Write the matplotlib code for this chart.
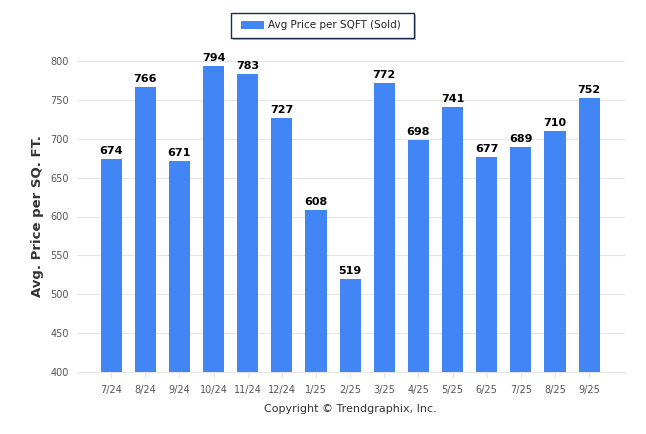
import matplotlib.pyplot as plt
import matplotlib.patches as patches

months = ["7/24", "8/24", "9/24", "10/24", "11/24", "12/24", "1/25", "2/25",
          "3/25", "4/25", "5/25", "6/25", "7/25", "8/25", "9/25"]
price_sqft = [674, 766, 671, 794, 783, 727, 608, 519, 772, 698, 741, 677, 689, 710, 752]
y_ticks = [400, 450, 500, 550, 600, 650, 700, 750, 800]

bar_color = "#4285F4"
W, H = 646, 434

fig = plt.figure(figsize=(W / 100, H / 100), dpi=100)
ax = fig.add_axes([77 / W, (H - 372) / H, (625 - 77) / W, (372 - 61) / H])

xs = list(range(len(months)))
ax.bar(xs, price_sqft, width=0.62, color=bar_color, zorder=3)
for x, v in zip(xs, price_sqft):
    ax.text(x, v + 4, str(v), ha="center", va="bottom", fontsize=8,
            fontweight="bold", color="#000")

ax.set_xlim(-1.0, 15.05)
ax.set_ylim(400, 800)
ax.set_yticks(y_ticks)
ax.set_xticks(xs)
ax.set_xticklabels(months)
ax.tick_params(axis="both", labelsize=7, colors="#555", length=0, pad=6)
ax.tick_params(axis="x", length=4, color="#e6e6e6", pad=5)
ax.grid(axis="y", color="#e6e6e6", linewidth=0.8, zorder=0)
for s in ["top", "right", "left"]:
    ax.spines[s].set_visible(False)
ax.spines["bottom"].set_color("#e6e6e6")

ax.set_ylabel("Avg. Price per SQ. FT.", fontsize=9.5, fontweight="bold",
              color="#333", labelpad=4)

fig.text(350 / W, 1 - 409 / H, "Copyright \u00a9 Trendgraphix, Inc.",
         ha="center", va="center", fontsize=8, color="#333")

# legend box with shadow
shadow = patches.Rectangle((233 / W, 1 - 40 / H), 183 / W, 25 / H,
                           transform=fig.transFigure, facecolor="#bbb",
                           edgecolor="none", zorder=1)
box = patches.Rectangle((231 / W, 1 - 38 / H), 183 / W, 25 / H,
                        transform=fig.transFigure, facecolor="#fff",
                        edgecolor="#1a2a4a", linewidth=1.0, zorder=2)
swatch = patches.Rectangle((241 / W, 1 - 29 / H), 23 / W, 8 / H,
                           transform=fig.transFigure, facecolor=bar_color,
                           edgecolor="none", zorder=3)
fig.patches.extend([shadow, box, swatch])
fig.text(268 / W, 1 - 25 / H, "Avg Price per SQFT (Sold)", ha="left",
         va="center", fontsize=7.5, color="#222", zorder=4)

fig.savefig("out.png", dpi=100)
